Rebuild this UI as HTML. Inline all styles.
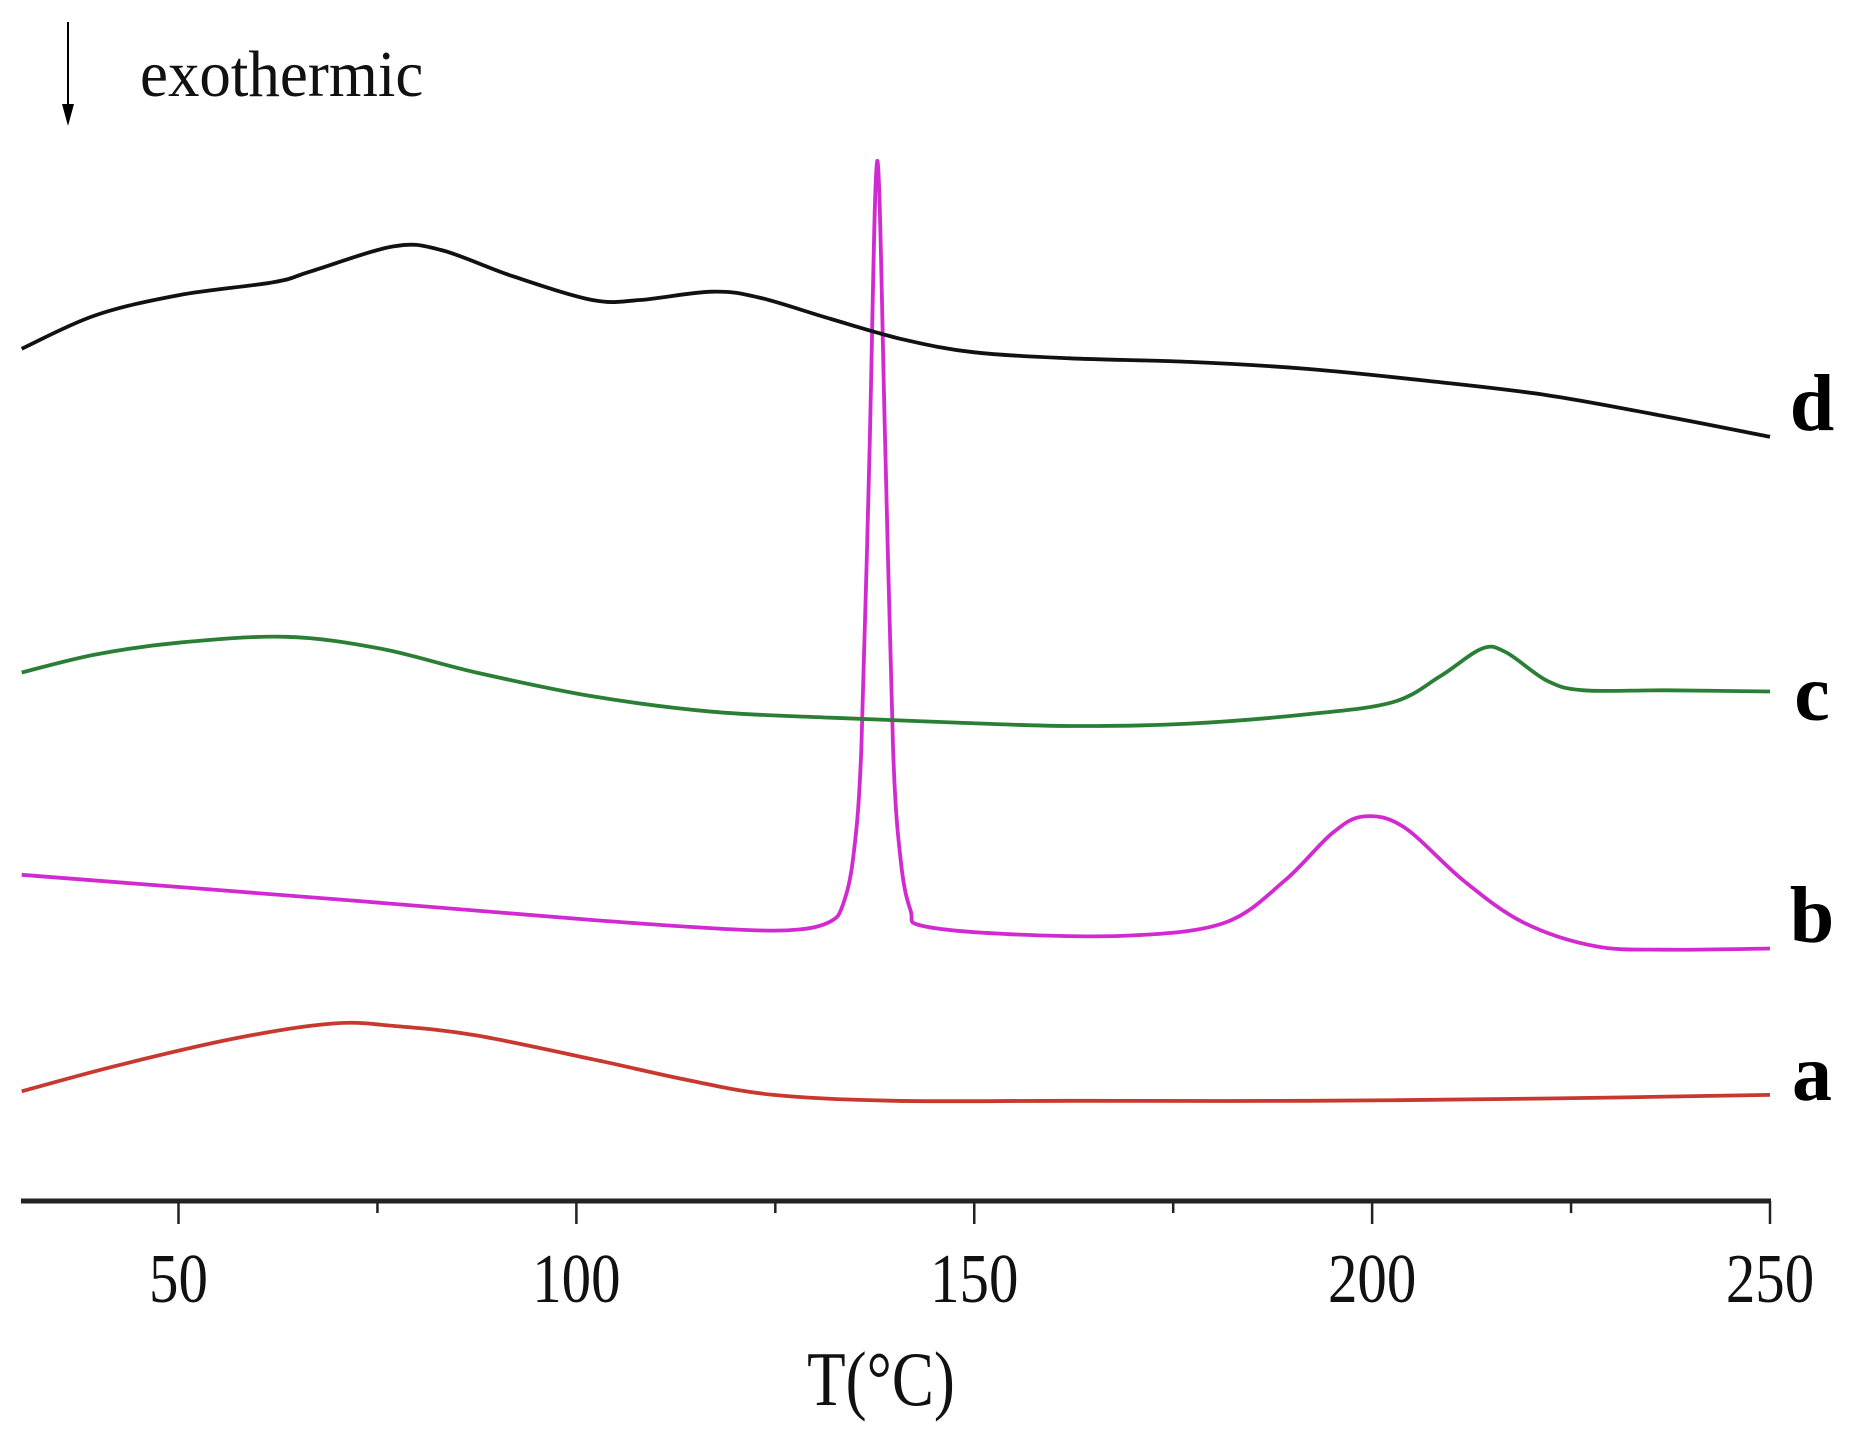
<!DOCTYPE html>
<html><head><meta charset="utf-8">
<style>
html,body{margin:0;padding:0;background:#fff;}
svg{display:block;}
text{font-family:"Liberation Serif",serif;}
</style></head>
<body>
<svg id="chart" width="1866" height="1437" viewBox="0 0 1866 1437" xmlns="http://www.w3.org/2000/svg">
<g>
<line x1="68" y1="22" x2="68" y2="108" stroke="#000" stroke-width="2"/>
<polygon points="62,104 74,104 68,126" fill="#000"/>
<text x="140" y="96" font-size="60" fill="#111" transform="translate(140,96) scale(1.05,1.1) translate(-140,-96)">exothermic</text>
</g>
<g id="curves"></g>
<g id="xaxis"></g>
<text x="881" y="1405" font-size="70" text-anchor="middle" fill="#111" transform="translate(881,1405) scale(0.9,1.1) translate(-881,-1405)">T(°C)</text>
<text x="1812" y="430" font-size="80" font-weight="bold" text-anchor="middle">d</text>
<text x="1812" y="720" font-size="80" font-weight="bold" text-anchor="middle">c</text>
<text x="1812" y="942" font-size="80" font-weight="bold" text-anchor="middle">b</text>
<text x="1812" y="1100" font-size="80" font-weight="bold" text-anchor="middle">a</text>
</svg>
<script>
const tempD=[30.3,39.5,50,62,66.6,77,83,92,102,108,117,123,132,141,150,162,177,192,207,222,237,250];
const flowD=[717,745,762,773,782,803,800,778,758,758,765,760,742,725,714,709,706,700,690,678,660,643];
const tempC=[30.3,39.5,50,63.5,75.4,87.4,102,117,132,147,162,177,192,202.6,208.6,213.8,216.8,222,226.6,237,250];
const flowC=[445,460,470,475,465,445,425,412,407,403,400,402,410,420,442,465,462,438,430,430,429];
const tempB=[30.3,72.4,102,120,128,132,133.5,134.8,135.8,136.8,137.8,138.8,139.8,140.8,142,143.5,154.7,170,181.6,189,195,199,204,211.5,219,228,237,250];
const flowB=[275,253,237,229,229,236,250,290,380,620,875,640,380,285,245,232,225,224,235,270,310,324,315,270,235,215,212,213];
const tempA=[30.3,42.5,57.5,69.4,77,87.4,102,114.3,124.8,140,162,192,222,250];
const flowA=[93,115,138,150,148,140,120,102,90,85,85,85,87,90];
const majorTicks=[50,100,150,200,250];
const minorTicks=[75,125,175,225];
const xMin=30.2,xMax=250;
function xs(t){return 178.5+(t-50)*7.9575;}
function ys(v){return 1202-v*1.19;}
const NS="http://www.w3.org/2000/svg";
function path(T,V){
  const p=T.map((t,i)=>[xs(t),ys(V[i])]);
  let d="M"+p[0][0].toFixed(1)+","+p[0][1].toFixed(1);
  for(let i=0;i<p.length-1;i++){
    const p0=p[Math.max(0,i-1)],p1=p[i],p2=p[i+1],p3=p[Math.min(p.length-1,i+2)];
    const c1=[p1[0]+(p2[0]-p0[0])/6,p1[1]+(p2[1]-p0[1])/6];
    const c2=[p2[0]-(p3[0]-p1[0])/6,p2[1]-(p3[1]-p1[1])/6];
    d+=" C"+c1.map(n=>n.toFixed(1)).join(",")+" "+c2.map(n=>n.toFixed(1)).join(",")+" "+p2.map(n=>n.toFixed(1)).join(",");
  }
  return d;
}
const curves=document.getElementById('curves');
[[tempA,flowA,'#c8382f','curve-a'],[tempB,flowB,'#d02ad0','curve-b'],[tempC,flowC,'#2a7f35','curve-c'],[tempD,flowD,'#111','curve-d']].forEach(s=>{
  const el=document.createElementNS(NS,'path');
  el.setAttribute('d',path(s[0],s[1]));
  el.setAttribute('fill','none');el.setAttribute('stroke',s[2]);el.setAttribute('stroke-width','3.8');
  el.setAttribute('stroke-linejoin','round');
  
  
  curves.appendChild(el);
});
const ax=document.getElementById('xaxis');
const line=document.createElementNS(NS,'line');
line.setAttribute('x1',xs(xMin));line.setAttribute('x2',xs(xMax)+1);line.setAttribute('y1',1201);line.setAttribute('y2',1201);
line.setAttribute('stroke','#222');line.setAttribute('stroke-width','5');


ax.appendChild(line);
majorTicks.forEach(t=>{
  const tk=document.createElementNS(NS,'line');
  tk.setAttribute('x1',xs(t));tk.setAttribute('x2',xs(t));tk.setAttribute('y1',1201);tk.setAttribute('y2',1224);
  tk.setAttribute('stroke','#222');tk.setAttribute('stroke-width','2.5');
  
  
  ax.appendChild(tk);
  const lb=document.createElementNS(NS,'text');
  lb.setAttribute('x',xs(t));lb.setAttribute('y',1302);lb.setAttribute('text-anchor','middle');
  lb.setAttribute('font-size','62');lb.setAttribute('fill','#111');
  lb.setAttribute('transform','translate('+xs(t)+',1302) scale(0.95,1.12) translate('+(-xs(t))+',-1302)');
  lb.textContent=t;
  
  
  ax.appendChild(lb);
});
minorTicks.forEach(t=>{
  const tk=document.createElementNS(NS,'line');
  tk.setAttribute('x1',xs(t));tk.setAttribute('x2',xs(t));tk.setAttribute('y1',1201);tk.setAttribute('y2',1213);
  tk.setAttribute('stroke','#222');tk.setAttribute('stroke-width','2.5');
  
  
  ax.appendChild(tk);
});
</script>
</body></html>
